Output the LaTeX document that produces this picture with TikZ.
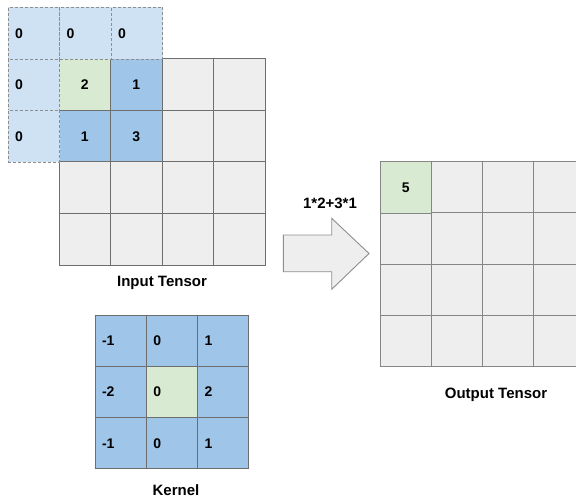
\documentclass[tikz,border=0pt]{standalone}
\usepackage{fontspec}
\setmainfont{Liberation Sans}
\definecolor{padblue}{HTML}{CFE2F3}
\definecolor{kblue}{HTML}{9FC5E8}
\definecolor{cgreen}{HTML}{D9EAD3}
\definecolor{cgrey}{HTML}{EEEEEE}
\definecolor{gline}{HTML}{6E6E6E}
\definecolor{oline}{HTML}{858585}
\definecolor{dline}{HTML}{8E8E8E}
\tikzset{
  txt/.style={font=\bfseries\fontsize{14bp}{16bp}\selectfont, text=black},
  cell/.style={txt, draw=gline, line width=1bp, minimum width=51.5bp, minimum height=51.5bp,
    inner sep=0pt, outer sep=0pt, anchor=north west},
  incell/.style={cell, fill=cgrey},
  padcell/.style={cell, fill=padblue, draw=dline, line width=0.9bp, dash pattern=on 3bp off 2bp,
    text width=37.5bp, align=left, inner xsep=7bp},
  kcell/.style={cell, fill=kblue, minimum width=51.3bp, minimum height=51.3bp,
    text width=37.3bp, align=left, inner xsep=7bp},
  ocell/.style={cell, fill=cgrey, draw=oline, minimum width=51.3bp, minimum height=51.3bp},
  lab/.style={font=\bfseries\fontsize{15bp}{17bp}\selectfont, text=black, inner sep=0pt},
}
\begin{document}
\begin{tikzpicture}[x=1bp,y=-1bp]
\useasboundingbox (0,0) rectangle (576,498);
% input tensor grid
\foreach \r in {0,...,3}{
  \foreach \c in {0,...,3}{
    \node[incell] (in\r\c) at ({59+51.5*\c},{59+51.5*\r}) {};
  }
}
% overlapped cells of the window
\node[cell, fill=cgreen] (w11) at (59,59) {2};
\node[cell, fill=kblue] (w12) at (110.5,59) {1};
\node[cell, fill=kblue] (w21) at (59,110.5) {1};
\node[cell, fill=kblue] (w22) at (110.5,110.5) {3};
% padding cells
\node[padcell] (p00) at (8,7.5) {0};
\node[padcell] (p01) at (59.5,7.5) {0};
\node[padcell] (p02) at (111,7.5) {0};
\node[padcell] (p10) at (8,59) {0};
\node[padcell] (p20) at (8,110.5) {0};
\node[lab] (inlab) at (162,283) {Input Tensor};
% kernel
\foreach \r/\a/\b/\cc in {0/-1/0/1, 1/-2/0/2, 2/-1/0/1}{
  \node[kcell] (k\r0) at (95,{315+51.3*\r}) {\a};
  \node[kcell] (k\r1) at (146.3,{315+51.3*\r}) {\b};
  \node[kcell] (k\r2) at (197.6,{315+51.3*\r}) {\cc};
}
\node[kcell, fill=cgreen] (k11c) at (146.3,366.3) {0};
\node[lab] (klab) at (176,490) {Kernel};
% arrow
\draw[draw=dline, fill=cgrey, line width=0.9bp, line join=miter]
  (283.3,235) -- (331.7,235) -- (331.7,218.3) -- (369,253.5) -- (331.7,289.3)
  -- (331.7,271.7) -- (283.3,271.7) -- cycle;
\node[lab] (op) at (330,203.5) {1*2+3*1};
% output tensor
\foreach \r in {0,...,3}{
  \foreach \c in {0,...,3}{
    \node[ocell] (o\r\c) at ({380+51.3*\c},{161.7+51.3*\r}) {};
  }
}
\node[ocell, fill=cgreen] (o00g) at (380,161.7) {5};
\node[lab] (olab) at (496,395) {Output Tensor};
\end{tikzpicture}
\end{document}
